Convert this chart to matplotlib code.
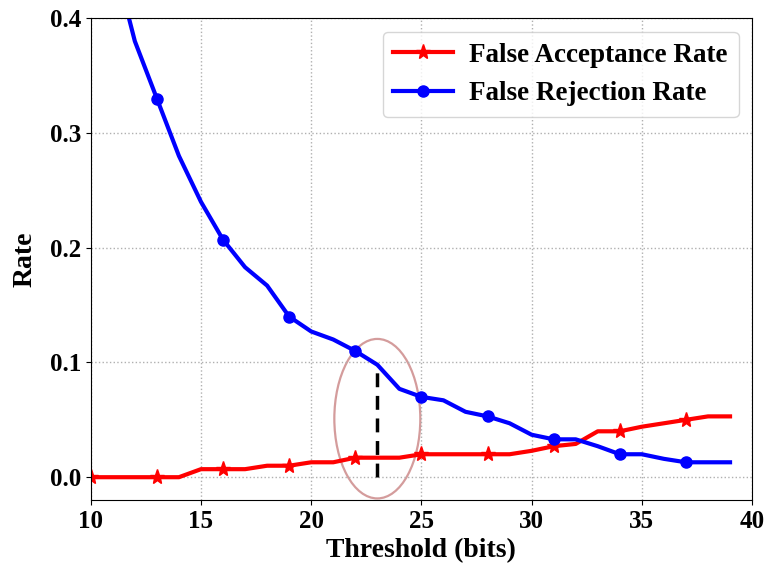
import matplotlib
matplotlib.use("Agg")
import matplotlib.pyplot as plt
from matplotlib.patches import Ellipse

# threshold values (bits)
thresh = list(range(10, 40))

# false acceptance rate
far = [0.0, 0.0, 0.0, 0.0, 0.0, 0.007, 0.007, 0.007, 0.01, 0.01,
       0.013, 0.013, 0.017, 0.017, 0.017, 0.02, 0.02, 0.02, 0.02, 0.02,
       0.023, 0.027, 0.029, 0.04, 0.04, 0.044, 0.047, 0.05, 0.053, 0.053]

# false rejection rate
frr = [0.55, 0.455, 0.38, 0.33, 0.28, 0.24, 0.207, 0.183, 0.167, 0.14,
       0.127, 0.12, 0.11, 0.098, 0.077, 0.07, 0.067, 0.057, 0.053, 0.047,
       0.037, 0.033, 0.033, 0.027, 0.02, 0.02, 0.016, 0.013, 0.013, 0.013]

# equal error region
eer_x = 23
eer_top = 0.096

plt.rcParams["font.family"] = "Liberation Serif"
plt.rcParams["font.weight"] = "bold"
fs = 18

fig, ax = plt.subplots(figsize=(7.69, 5.69), dpi=100)
fig.subplots_adjust(left=0.118, right=0.978, top=0.968, bottom=0.121)

ax.plot(thresh, far, "-*", color="red", lw=3, markersize=11, markevery=3,
        label="False Acceptance Rate")
ax.plot(thresh, frr, "-o", color="blue", lw=3, markersize=8, markevery=3,
        label="False Rejection Rate")

ax.plot([eer_x, eer_x], [0, eer_top], "--", color="black", lw=2.5, dashes=(4, 2.5))
ax.add_patch(Ellipse((23.0, 0.051), 3.9, 0.139, fill=False,
                     edgecolor="#d49c9c", lw=1.6))

ax.set_xlim(10, 40)
ax.set_ylim(-0.02, 0.4)
ax.set_xticks([10, 15, 20, 25, 30, 35, 40])
ax.set_yticks([0.0, 0.1, 0.2, 0.3, 0.4])
ax.tick_params(labelsize=fs)
ax.set_xlabel("Threshold (bits)", fontsize=20, fontweight="bold", labelpad=4)
ax.set_ylabel("Rate", fontsize=20, fontweight="bold", labelpad=9)
ax.grid(color="#b0b0b0", ls=":", lw=1)
ax.legend(loc="upper right", handlelength=2.2, handletextpad=0.6,
          prop={"weight": "bold", "size": 19.5})

plt.savefig("out.png")
